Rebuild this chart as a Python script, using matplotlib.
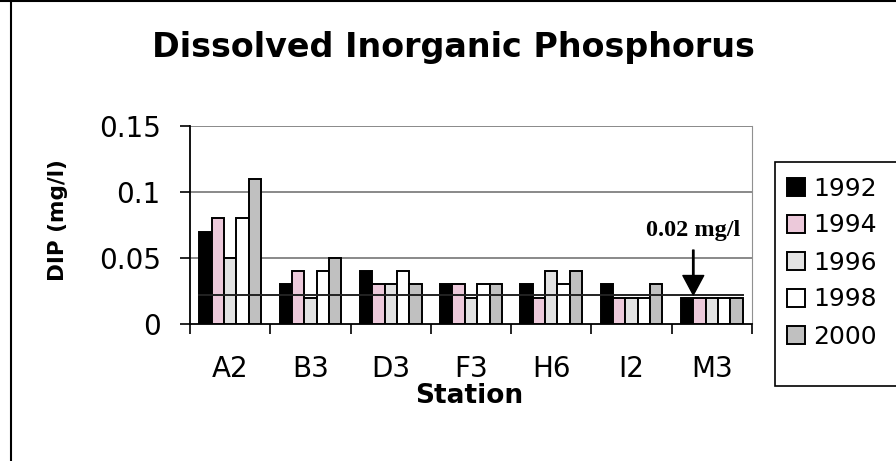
import numpy as np
import matplotlib
matplotlib.use("Agg")
import matplotlib.pyplot as plt
from matplotlib.lines import Line2D
from matplotlib.patches import Rectangle

# data
stations = ["A2", "B3", "D3", "F3", "H6", "I2", "M3"]
years = ["1992", "1994", "1996", "1998", "2000"]
dip_1992 = [0.07, 0.03, 0.04, 0.03, 0.03, 0.03, 0.02]
dip_1994 = [0.08, 0.04, 0.03, 0.03, 0.02, 0.02, 0.02]
dip_1996 = [0.05, 0.02, 0.03, 0.02, 0.04, 0.02, 0.02]
dip_1998 = [0.08, 0.04, 0.04, 0.03, 0.03, 0.02, 0.02]
dip_2000 = [0.11, 0.05, 0.03, 0.03, 0.04, 0.03, 0.02]
yticks = [0, 0.05, 0.1, 0.15]
ytick_labels = ["0", "0.05", "0.1", "0.15"]
limit = 0.022  # the 0.02 mg/l reference line

series = [dip_1992, dip_1994, dip_1996, dip_1998, dip_2000]
colors = ["#000000", "#ecc9da", "#e2e2e2", "#ffffff", "#c0c0c0"]

W, H = 896, 461
fig = plt.figure(figsize=(W / 100, H / 100), dpi=100)
ax = fig.add_axes([190 / W, 1 - 324 / H, (752 - 190) / W, (324 - 126) / H])

x = np.arange(len(stations))
bw = 0.154
for i, (vals, col, yr) in enumerate(zip(series, colors, years)):
    ax.bar(x + (i - 2) * bw, vals, bw, color=col, edgecolor="black",
           linewidth=1.4, label=yr, zorder=3)

# reference line over the bars
ax.plot([x[0] - 2.5 * bw, x[-1] + 2.5 * bw], [limit, limit],
        color="#222222", lw=1.4, zorder=4)

ax.set_xlim(-0.5, len(stations) - 0.5)
ax.set_ylim(0, 0.15)
ax.set_yticks(yticks)
ax.set_yticklabels(ytick_labels)
for yv in yticks[1:]:
    ax.axhline(yv, color="#808080", lw=1.3, zorder=1)

ax.set_xticks(x)
ax.set_xticklabels(stations)
ax.set_xticks(np.arange(-0.5, len(stations)), minor=True)
ax.tick_params(axis="x", which="major", length=0, pad=22, labelsize=20)
ax.tick_params(axis="x", which="minor", length=7, width=1.2, direction="out")
ax.tick_params(axis="y", length=7, width=1.2, direction="out", pad=14,
               labelsize=20)

ax.spines["top"].set_visible(False)
ax.spines["right"].set_color("#909090")
ax.spines["left"].set_linewidth(1.3)
ax.spines["bottom"].set_linewidth(1.3)

# arrow + label for the limit
ax.annotate("", xy=(x[-1] - 1.5 * bw, limit), xytext=(x[-1] - 1.5 * bw, 0.056),
            arrowprops=dict(facecolor="black", edgecolor="black", width=1,
                            headwidth=15, headlength=14, shrink=0),
            zorder=5)
ax.text(x[-1] - 1.5 * bw, 0.0705, "0.02 mg/l", ha="center", va="center",
        family="Liberation Serif", fontweight="bold", fontsize=17.5)

fig.text(453 / W, 1 - 47 / H, "Dissolved Inorganic Phosphorus", ha="center",
         va="center", fontsize=24, fontweight="bold")
fig.text(469 / W, 1 - 396 / H, "Station", ha="center", va="center",
         fontsize=19, fontweight="bold")
fig.text(58 / W, 1 - 220 / H, "DIP (mg/l)", ha="center", va="center",
         rotation=90, fontsize=15.5, fontweight="bold")

# legend box drawn by hand (runs off the right edge)
fig.add_artist(Rectangle((775 / W, 1 - 386 / H), 200 / W, (386 - 162) / H,
                         transform=fig.transFigure, facecolor="white",
                         edgecolor="black", lw=1.2, zorder=0))
leg = fig.legend(loc="upper left", bbox_to_anchor=(779 / W, 1 - 169 / H),
                 fontsize=18, frameon=False, handlelength=0.75,
                 handleheight=0.75, handletextpad=0.3, labelspacing=0.52,
                 borderpad=0.3, borderaxespad=0)

# outer chart border (top and left visible)
fig.add_artist(Line2D([0, 1], [1 - 1.5 / H, 1 - 1.5 / H], color="black", lw=1.5))
fig.add_artist(Line2D([11 / W, 11 / W], [0, 1], color="black", lw=1.5))

fig.savefig("out.png", dpi=100)
